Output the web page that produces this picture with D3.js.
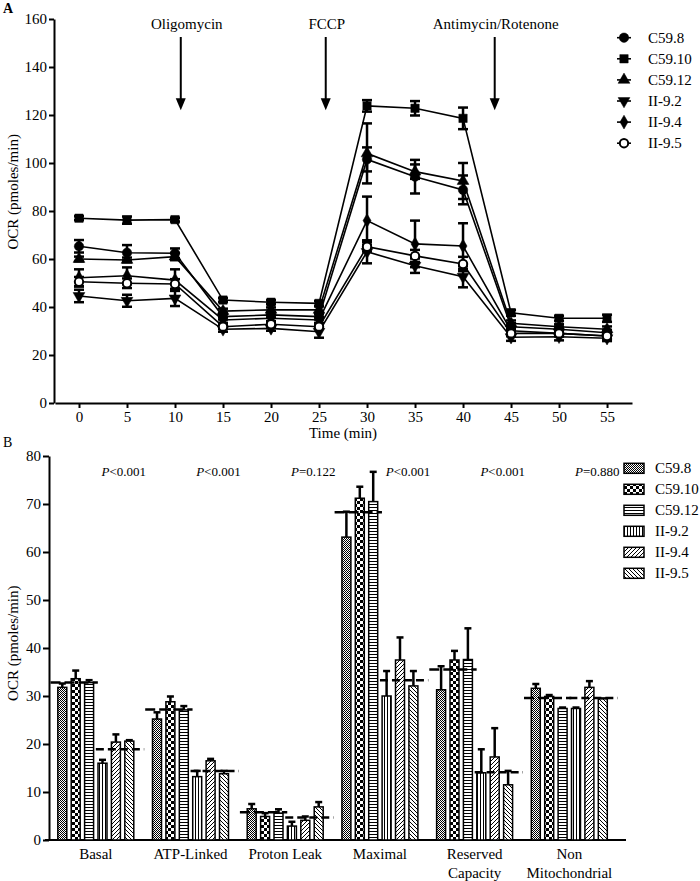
<!DOCTYPE html>
<html><head><meta charset="utf-8">
<script src="https://cdn.jsdelivr.net/npm/d3@7"></script>
<style>
body{margin:0;background:#fff}
svg{display:block}
text{font-family:"Liberation Serif","Times New Roman",serif;fill:#000}
</style>
</head><body>
<svg id="c" width="700" height="881"></svg>
<script>
// ---------- Panel A data ----------
const seriesNames = ["C59.8","C59.10","C59.12","II-9.2","II-9.4","II-9.5"];
const times = [0,5,10,15,20,25,30,35,40,45,50,55];
const yTicksA = [0,20,40,60,80,100,120,140,160];
const c598   = [65.3,62.6,62.4,36.0,36.7,36.0,101.5,94.3,88.8,31.8,30.7,29.3];
const c5910  = [77.0,76.2,76.4,42.9,42.0,41.5,123.8,122.8,118.6,37.6,35.3,35.3];
const c5912  = [60.0,59.6,61.0,38.3,38.8,38.8,104.0,96.4,92.5,33.2,31.8,30.7];
const ii92   = [44.6,42.6,43.6,30.7,31.1,29.7,63.0,57.2,52.6,27.4,27.6,27.0];
const ii94   = [52.2,53.0,51.2,34.6,35.3,34.6,76.0,66.3,65.4,30.1,29.0,27.9];
const ii95   = [50.5,49.9,49.6,31.8,32.8,31.8,65.1,61.3,57.9,29.0,29.0,27.9];
const c598E  = [2.6,3.2,2.0,1.2,1.2,1.2,5.0,7.0,6.0,1.5,1.2,1.2];
const c5910E = [0.8,1.5,0.8,0.8,0.8,1.0,2.4,3.0,4.5,1.2,1.0,1.5];
const c5912E = [1.0,1.0,1.5,1.0,1.0,1.5,12.5,3.0,7.5,1.2,1.0,1.2];
const ii92E  = [2.6,2.5,3.2,1.0,1.0,2.5,4.8,3.0,4.4,1.5,1.5,1.2];
const ii94E  = [3.5,3.5,4.5,1.2,1.2,1.2,10.0,9.7,9.5,1.2,1.2,1.2];
const ii95E  = [2.0,2.0,2.0,1.0,1.0,1.0,2.0,2.5,3.0,1.2,1.2,1.2];
const arrowLabels = ["Oligomycin","FCCP","Antimycin/Rotenone"];
const arrowTimes = [10.6,25.7,43.3];

// ---------- Panel B data ----------
const groups = ["Basal","ATP-Linked","Proton Leak","Maximal","Reserved Capacity","Non Mitochondrial"];
const groupLines = [["Basal"],["ATP-Linked"],["Proton Leak"],["Maximal"],["Reserved","Capacity"],["Non","Mitochondrial"]];
const yTicksB = [0,10,20,30,40,50,60,70,80];
const b598   = [31.8,25.2,6.5,63.1,31.3,31.6];
const b5910  = [33.6,28.8,4.9,71.2,37.5,29.9];
const b5912  = [32.8,27.1,5.6,70.5,37.6,27.4];
const b92    = [16.0,13.2,2.9,30.0,14.0,27.4];
const b94    = [20.4,16.5,4.1,37.5,17.3,31.8];
const b95    = [20.6,13.8,6.9,32.1,11.5,29.4];
const b598E  = [0.8,1.4,1.0,5.3,4.9,0.9];
const b5910E = [1.7,1.1,0.7,2.4,1.9,0.3];
const b5912E = [0.5,0.8,0.8,6.2,6.5,0.2];
const b92E   = [0.7,1.2,0.9,5.2,4.9,0.2];
const b94E   = [1.6,0.4,0.8,4.7,6.0,1.3];
const b95E   = [0.2,0.6,1.0,3.1,2.9,0.1];
const meanCtrl = [32.8,27.2,5.8,68.3,35.5,29.6];
const meanII   = [18.9,14.4,4.7,33.3,14.1,29.6];
const pOps  = ["<","<","=","<","<","="];
const pVals = ["0.001","0.001","0.122","0.001","0.001","0.880"];

const svg = d3.select("#c");
svg.append("rect").attr("width",700).attr("height",881).attr("fill","#fff");

// ================= PANEL A =================
const xA = d3.scaleLinear().domain([-2.5,57.6]).range([55,632]);
const yA = d3.scaleLinear().domain([0,160]).range([403,19]);

svg.append("text").attr("x",3).attr("y",13).attr("font-size",14).attr("font-weight","bold").text("A");

const axA = svg.append("g").attr("transform","translate(54,0)")
  .call(d3.axisLeft(yA).tickValues(yTicksA).tickSize(5).tickSizeOuter(0).tickPadding(2));
const axAx = svg.append("g").attr("transform","translate(0,403)")
  .call(d3.axisBottom(xA).tickValues(times).tickSize(5).tickSizeOuter(0).tickPadding(3));
[axA,axAx].forEach(g=>{
  g.selectAll("path,line").attr("stroke","#000").attr("stroke-width",2);
  g.selectAll("text").attr("font-size",15).attr("font-family",'"Liberation Serif","Times New Roman",serif');
});
svg.append("text").attr("x",xA(27.5)).attr("y",438).attr("text-anchor","middle").attr("font-size",15).text("Time (min)");
svg.append("text").attr("transform","translate(18,"+yA(88)+") rotate(-90)").attr("text-anchor","middle").attr("font-size",15).text("OCR (pmoles/min)");

// arrows
arrowTimes.forEach((t,i)=>{
  const x = xA(t);
  svg.append("text").attr("x", x + (i===0?6:1)).attr("y",yA(156)).attr("text-anchor","middle").attr("font-size",15).text(arrowLabels[i]);
  svg.append("line").attr("x1",x).attr("x2",x).attr("y1",yA(152.5)).attr("y2",yA(126)).attr("stroke","#000").attr("stroke-width",2);
  svg.append("path").attr("d",`M${x-5},${yA(127)}L${x+5},${yA(127)}L${x},${yA(122)}Z`).attr("fill","#000");
});

const seriesA = [
  {name:"C59.8", v:c598, e:c598E, sym:d3.symbolCircle, size:70, fill:"#000"},
  {name:"C59.10",v:c5910,e:c5910E,sym:d3.symbolSquare, size:70, fill:"#000"},
  {name:"C59.12",v:c5912,e:c5912E,sym:d3.symbolTriangle, size:60, fill:"#000"},
  {name:"II-9.2",v:ii92, e:ii92E, sym:d3.symbolTriangle, size:60, fill:"#000", rot:180},
  {name:"II-9.4",v:ii94, e:ii94E, sym:d3.symbolDiamond, size:55, fill:"#000"},
  {name:"II-9.5",v:ii95, e:ii95E, sym:d3.symbolCircle, size:55, fill:"#fff"}
];
const lineA = d3.line().x((d,i)=>xA(times[i])).y(d=>yA(d));
seriesA.forEach(s=>{
  svg.append("path").attr("d",lineA(s.v)).attr("fill","none").attr("stroke","#000").attr("stroke-width",1.6);
});
seriesA.forEach(s=>{
  const g = svg.append("g");
  s.v.forEach((v,i)=>{
    const x = xA(times[i]), y1 = yA(v+s.e[i]), y2 = yA(v-s.e[i]);
    g.append("line").attr("x1",x).attr("x2",x).attr("y1",y1).attr("y2",y2).attr("stroke","#000").attr("stroke-width",2.5);
    g.append("line").attr("x1",x-5).attr("x2",x+5).attr("y1",y1).attr("y2",y1).attr("stroke","#000").attr("stroke-width",2.5);
    g.append("line").attr("x1",x-5).attr("x2",x+5).attr("y1",y2).attr("y2",y2).attr("stroke","#000").attr("stroke-width",2.5);
  });
});
seriesA.forEach(s=>{
  const sym = d3.symbol().type(s.sym).size(s.size);
  s.v.forEach((v,i)=>{
    svg.append("path").attr("d",sym()).attr("transform",`translate(${xA(times[i])},${yA(v)}) rotate(${s.rot||0})`)
      .attr("fill",s.fill).attr("stroke","#000").attr("stroke-width",s.fill==="#fff"?2:0.5);
  });
});
// legend A
seriesA.forEach((s,i)=>{
  const y = 37.7 + i*21.1;
  svg.append("line").attr("x1",617).attr("x2",631).attr("y1",y).attr("y2",y).attr("stroke","#000").attr("stroke-width",1.6);
  svg.append("path").attr("d",d3.symbol().type(s.sym).size(s.size)()).attr("transform",`translate(624,${y}) rotate(${s.rot||0})`)
    .attr("fill",s.fill).attr("stroke","#000").attr("stroke-width",s.fill==="#fff"?2:0.5);
  svg.append("text").attr("x",648).attr("y",y+5).attr("font-size",15).text(s.name);
});

// ================= PANEL B =================
const defs = svg.append("defs");
function pat(id,w,h,draw){
  const p = defs.append("pattern").attr("id",id).attr("patternUnits","userSpaceOnUse").attr("width",w).attr("height",h);
  p.append("rect").attr("width",w).attr("height",h).attr("fill","#fff");
  draw(p);
}
pat("p0",2,2,p=>{p.append("rect").attr("width",1).attr("height",1).attr("fill","#000");p.append("rect").attr("x",1).attr("y",1).attr("width",1).attr("height",1).attr("fill","#000");});
pat("p1",6,6,p=>{p.append("rect").attr("width",3).attr("height",3).attr("fill","#000");p.append("rect").attr("x",3).attr("y",3).attr("width",3).attr("height",3).attr("fill","#000");});
pat("p2",4,3,p=>{p.append("rect").attr("width",4).attr("height",1).attr("fill","#000");});
pat("p3",3,4,p=>{p.append("rect").attr("width",1).attr("height",4).attr("fill","#000");});
pat("p4",4,4,p=>{p.append("path").attr("d","M-1,1L1,-1M0,4L4,0M3,5L5,3").attr("stroke","#000").attr("stroke-width",1);});
pat("p5",4,4,p=>{p.append("path").attr("d","M-1,3L1,5M0,0L4,4M3,-1L5,1").attr("stroke","#000").attr("stroke-width",1);});

const xB = d3.scaleBand().domain(groups).range([48.5,616.7]);
const xS = d3.scaleBand().domain(seriesNames).range([7.1,87.5]).paddingInner(0.33).paddingOuter(0.165);
const yB = d3.scaleLinear().domain([0,80]).range([840,456]);

svg.append("text").attr("x",3).attr("y",447).attr("font-size",14).text("B");

const axB = svg.append("g").attr("transform","translate(49,0)")
  .call(d3.axisLeft(yB).tickValues(yTicksB).tickSize(6).tickSizeOuter(0).tickPadding(2));
axB.selectAll("path,line").attr("stroke","#000").attr("stroke-width",2);
axB.selectAll("text").attr("font-size",15).attr("font-family",'"Liberation Serif","Times New Roman",serif');
svg.append("line").attr("x1",45).attr("x2",626).attr("y1",yB(0)).attr("y2",yB(0)).attr("stroke","#000").attr("stroke-width",2);
svg.append("text").attr("transform","translate(18,"+yB(41)+") rotate(-90)").attr("text-anchor","middle").attr("font-size",15).text("OCR (pmoles/min)");

const barSeries = [
  {name:"C59.8", v:b598, e:b598E, p:"p0"},
  {name:"C59.10",v:b5910,e:b5910E,p:"p1"},
  {name:"C59.12",v:b5912,e:b5912E,p:"p2"},
  {name:"II-9.2",v:b92,  e:b92E,  p:"p3"},
  {name:"II-9.4",v:b94,  e:b94E,  p:"p4"},
  {name:"II-9.5",v:b95,  e:b95E,  p:"p5"}
];
const bw = xS.bandwidth();
barSeries.forEach(s=>{
  groups.forEach((g,i)=>{
    const x = xB(g)+xS(s.name), v = s.v[i];
    const cx = x + bw/2;
    svg.append("line").attr("x1",cx).attr("x2",cx).attr("y1",yB(v)).attr("y2",yB(v+s.e[i])).attr("stroke","#000").attr("stroke-width",2.5);
    svg.append("line").attr("x1",cx-3.5).attr("x2",cx+3.5).attr("y1",yB(v+s.e[i])).attr("y2",yB(v+s.e[i])).attr("stroke","#000").attr("stroke-width",2.5);
    svg.append("rect").attr("x",x).attr("y",yB(v)).attr("width",bw).attr("height",yB(0)-yB(v))
      .attr("fill",`url(#${s.p})`).attr("stroke","#000").attr("stroke-width",1.5);
  });
});
groups.forEach((g,i)=>{
  const x0 = xB(g), c = x0 + xB.bandwidth()/2, x1 = x0 + xB.bandwidth();
  svg.append("line").attr("x1",x0+2).attr("x2",c+2).attr("y1",yB(meanCtrl[i])).attr("y2",yB(meanCtrl[i]))
    .attr("stroke","#000").attr("stroke-width",2.5).attr("stroke-dasharray","10,4");
  svg.append("line").attr("x1",c).attr("x2",x1+1).attr("y1",yB(meanII[i])).attr("y2",yB(meanII[i]))
    .attr("stroke","#000").attr("stroke-width",2.5).attr("stroke-dasharray","8,4");
  const t = svg.append("text").attr("x",c+28).attr("y",476).attr("text-anchor","middle").attr("font-size",13);
  t.append("tspan").attr("font-style","italic").text("P");
  t.append("tspan").text(pOps[i]+pVals[i]);
  groupLines[i].forEach((ln,j)=>{
    svg.append("text").attr("x",c).attr("y",859+j*18.5).attr("text-anchor","middle").attr("font-size",15).text(ln);
  });
});
// legend B
barSeries.forEach((s,i)=>{
  const y = 468.3 + i*21;
  svg.append("rect").attr("x",624).attr("y",y-5).attr("width",20).attr("height",10)
    .attr("fill",`url(#${s.p})`).attr("stroke","#000").attr("stroke-width",1.5);
  svg.append("text").attr("x",655).attr("y",y+5).attr("font-size",15).text(s.name);
});
</script>
</body></html>
